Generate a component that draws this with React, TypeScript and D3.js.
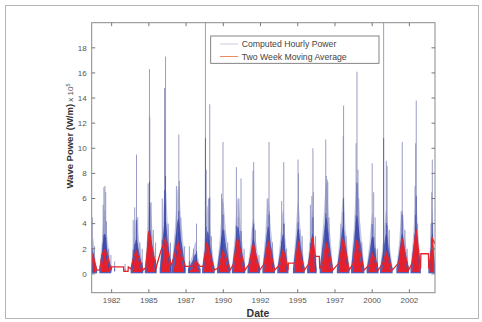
import React from 'react';
import * as d3 from 'd3';

// axis ticks
const yTicks = [0, 2, 4, 6, 8, 10, 12, 14, 16, 18];
const xTickYears = [1982.5, 1985, 1987.5, 1990, 1992.5, 1995, 1997.5, 2000, 2002.5];
const xTickLabels = ['1982', '1985', '1987', '1990', '1992', '1995', '1997', '2000', '2002'];

// winter storm seasons (decimal years), dense core height and two week average peak (x 10^5 W/m)
const seasonStart = [1981.15, 1981.7, 1983.8, 1984.75, 1985.75, 1986.55, 1987.65, 1988.6, 1989.6, 1990.6, 1991.65, 1992.65, 1993.65, 1994.7, 1995.65, 1996.5, 1997.65, 1998.6, 1999.65, 2000.55, 2001.65, 2002.6, 2003.8];
const seasonMid = [1981.25, 1982.02, 1984.15, 1985.05, 1986.1, 1986.98, 1988.15, 1988.95, 1989.98, 1990.98, 1992.02, 1993.02, 1994.02, 1995.02, 1996.0, 1996.92, 1998.05, 1998.98, 2000.02, 2000.95, 2002.02, 2002.95, 2004.05];
const seasonEnd = [1981.5, 1982.45, 1984.6, 1985.5, 1986.5, 1987.45, 1988.45, 1989.4, 1990.45, 1991.45, 1992.45, 1993.45, 1994.35, 1995.45, 1996.25, 1997.35, 1998.45, 1999.45, 2000.4, 2001.35, 2002.45, 2003.25, 2004.22];
const seasonCore = [1.8, 3.2, 2.8, 3.6, 4.4, 4.4, 1.6, 3.4, 3.6, 3.8, 2.8, 3.8, 3.2, 3.6, 3.2, 4.5, 3.8, 4.6, 3.0, 3.2, 3.2, 3.8, 3.2];
const seasonAvg = [1.6, 1.9, 1.8, 3.4, 2.8, 2.5, 1.0, 2.5, 1.8, 2.8, 2.4, 2.6, 1.9, 2.6, 2.9, 2.5, 2.8, 2.7, 1.6, 1.7, 2.8, 3.5, 2.8];

// hourly power storm peaks
const spikeYear = [
  1981.2, 1981.35, 1981.93, 1981.98, 1982.05, 1982.1, 1982.15, 1982.3, 1982.45, 1982.7, 1983.4,
  1983.95, 1984.05, 1984.17, 1984.25, 1984.4, 1984.55, 1984.95, 1985.04, 1985.06, 1985.15, 1985.3, 1985.45,
  1985.9, 1986.05, 1986.1, 1986.12, 1986.3, 1986.45, 1986.85, 1987.01, 1987.05, 1987.15, 1987.4,
  1987.72, 1988.0, 1988.2, 1988.8, 1988.85, 1989.0, 1989.09, 1989.2,
  1989.88, 1989.93, 1989.98, 1990.1, 1990.3, 1990.88, 1991.0, 1991.05, 1991.19, 1991.4,
  1992.0, 1992.04, 1992.15, 1992.4, 1992.95, 1993.07, 1993.1, 1993.3,
  1993.92, 1994.06, 1994.1, 1994.25, 1995.02, 1995.05, 1995.15, 1995.3,
  1995.85, 1995.95, 1996.02, 1996.05, 1996.2, 1996.88, 1996.92, 1996.98, 1997.02, 1997.1,
  1997.9, 1998.06, 1998.08, 1998.25, 1998.92, 1998.98, 1999.05, 1999.1, 1999.3,
  2000.0, 2000.1, 2000.2, 2000.35, 2000.77, 2000.95, 2001.0, 2001.15,
  2001.95, 2002.02, 2002.2, 2002.35, 2002.88, 2002.92, 2002.96, 2003.05, 2003.95, 2004.0, 2004.04,
];
const spikeValue = [
  4.5, 2.2, 5.5, 6.9, 7.0, 6.5, 4.2, 2.0, 1.5, 1.0, 0.8,
  4.3, 5.3, 9.5, 4.5, 2.5, 2.0, 7.2, 16.3, 12.5, 5.7, 3.5, 2.5,
  6.0, 14.8, 12.2, 17.3, 4.0, 2.5, 7.0, 11.1, 7.4, 4.5, 2.2,
  2.2, 2.0, 4.0, 24, 8.3, 6.0, 13.5, 3.0,
  6.4, 6.0, 10.5, 3.5, 2.5, 8.5, 4.5, 6.0, 7.6, 2.0,
  8.2, 8.9, 3.5, 1.5, 6.0, 10.5, 5.0, 2.5,
  5.8, 8.9, 4.0, 2.0, 9.1, 8.0, 3.5, 3.0,
  5.5, 6.2, 10.0, 6.5, 3.0, 10.7, 7.8, 7.5, 7.3, 4.5,
  4.0, 11.0, 13.4, 3.0, 10.4, 16.1, 8.3, 6.0, 2.5,
  8.8, 6.5, 4.5, 2.0, 24, 9.0, 8.6, 3.5,
  5.0, 10.5, 3.5, 2.0, 7.0, 10.4, 13.8, 4.0, 4.0, 6.5, 9.1,
];

// two week moving average
const avgYear = [
  1981.16, 1981.3, 1981.5, 1981.7, 1981.85, 1982.0, 1982.2, 1982.45, 1982.5, 1983.3, 1983.32, 1983.6, 1983.62, 1983.8,
  1984.0, 1984.15, 1984.35, 1984.6, 1984.8, 1985.0, 1985.15, 1985.5, 1985.52, 1985.8, 1986.1, 1986.3, 1986.5,
  1986.7, 1986.95, 1987.2, 1987.45, 1987.9, 1988.15, 1988.45, 1988.65, 1988.9, 1989.1, 1989.4,
  1989.7, 1989.98, 1990.2, 1990.45, 1990.7, 1990.95, 1991.2, 1991.45, 1991.75, 1992.02, 1992.2, 1992.45,
  1992.75, 1993.02, 1993.2, 1993.45, 1993.75, 1994.02, 1994.2, 1994.35, 1994.37, 1994.82, 1994.85,
  1995.02, 1995.2, 1995.45, 1995.75, 1996.0, 1996.15, 1996.2, 1996.45, 1996.48,
  1996.7, 1996.92, 1997.1, 1997.35, 1997.8, 1998.05, 1998.25, 1998.45, 1998.75, 1998.98, 1999.2, 1999.45,
  1999.8, 2000.02, 2000.2, 2000.4, 2000.7, 2000.95, 2001.1, 2001.35, 2001.8, 2002.02, 2002.2, 2002.45,
  2002.7, 2002.95, 2003.1, 2003.25, 2003.27, 2003.78, 2003.8, 2003.95, 2004.05, 2004.22,
];
const avgValue = [
  1.6, 1.2, 0.3, 0.3, 1.5, 1.9, 1.5, 0.3, 0.55, 0.55, 0.2, 0.2, 0.55, 0.4,
  1.4, 1.8, 1.2, 0.3, 0.5, 3.4, 2.4, 0.4, 0.65, 1.8, 2.8, 1.6, 0.65,
  1.4, 2.5, 1.4, 0.6, 0.6, 1.0, 0.6, 0.6, 2.5, 1.5, 0.3,
  0.5, 1.8, 1.2, 0.3, 0.8, 2.8, 1.6, 0.3, 0.8, 2.4, 1.4, 0.3,
  0.8, 2.6, 1.5, 0.3, 0.7, 1.9, 1.1, 0.3, 0.85, 0.85, 0.4,
  2.6, 1.4, 0.3, 0.8, 2.9, 1.6, 1.4, 1.4, 0.4,
  1.0, 2.5, 1.7, 0.3, 0.9, 2.8, 1.6, 0.3, 0.9, 2.7, 1.6, 0.3,
  0.7, 1.6, 1.1, 0.3, 0.8, 1.7, 1.2, 0.3, 0.9, 2.8, 1.6, 0.3,
  0.9, 3.5, 2.0, 0.4, 1.6, 1.6, 0.4, 1.5, 2.8, 2.4,
];

const W = 482;
const H = 322;
const L = 91.7, R = 435, T = 22.7, B = 292.7;

export default function App() {
  const x = d3.scaleLinear().domain([1981.16, 2004.22]).range([L, R]);
  const y = d3.scaleLinear().domain([-1.5, 20]).range([B, T]);

  // season envelopes
  const envelope = d3.area<[number, number]>()
    .x(d => x(d[0]))
    .y0(y(0.05))
    .y1(d => y(d[1]))
    .curve(d3.curveMonotoneX);

  const seasons = seasonMid.map((m, i) => {
    const s = seasonStart[i], e = seasonEnd[i], c = seasonCore[i], a = seasonAvg[i];
    return {
      outer: envelope([[s - 0.03, 0.4], [(s + m) / 2, c * 0.9], [m, c * 1.6], [(m + e) / 2, c * 0.85], [e + 0.03, 0.4]]),
      inner: envelope([[s - 0.02, 0.4], [(s + m) / 2, c * 0.6], [m, c], [(m + e) / 2, c * 0.55], [e + 0.02, 0.4]]),
      red: d3.area<[number, number]>()
        .x(d => x(d[0])).y0(y(0.15)).y1(d => y(d[1])).curve(d3.curveMonotoneX)(
          [[s + 0.1, 0.25], [m - 0.09, a * 0.7], [m, a], [m + 0.08, a * 0.75], [e - 0.1, 0.25]]
        ),
    };
  });

  const avgLine = d3.line<number>()
    .x((d, i) => x(avgYear[i]))
    .y(d => y(d))(avgValue);

  const clipId = 'plotClip';
  const tickColor = '#777';
  const labelFont = '"Liberation Sans", Arial, sans-serif';

  return (
    <svg width={W} height={H} style={{ position: 'absolute', left: 0, top: 0, background: '#fff' }}>
      <rect x={5.5} y={5.5} width={473} height={313} fill="#fff" stroke="#b5b5b5" strokeWidth={1} />
      <defs>
        <clipPath id={clipId}>
          <rect x={L} y={T} width={R - L} height={B - T} />
        </clipPath>
      </defs>

      <g clipPath={`url(#${clipId})`}>
        {seasons.map((s, i) => (
          <path key={'o' + i} d={s.outer ?? ''} fill="#8e92c6" opacity={0.5} />
        ))}
        {spikeYear.map((t, i) => (
          <line key={'s' + i} x1={x(t)} x2={x(t)} y1={y(0.2)} y2={y(spikeValue[i])}
            stroke="#8a8dbd" strokeWidth={1} opacity={0.85} />
        ))}
        {seasons.map((s, i) => (
          <path key={'i' + i} d={s.inner ?? ''} fill="#3545ad" opacity={0.8} />
        ))}
        {spikeYear.map((t, i) => (
          <line key={'sb' + i} x1={x(t)} x2={x(t)} y1={y(0.2)} y2={y(spikeValue[i] * 0.45)}
            stroke="#3a48aa" strokeWidth={1} opacity={0.7} />
        ))}
        {seasons.map((s, i) => (
          <path key={'r' + i} d={s.red ?? ''} fill="#ee1c25" opacity={0.95} />
        ))}
        <path d={avgLine ?? ''} fill="none" stroke="#e4262b" strokeWidth={1.3} />
      </g>

      {/* axes box */}
      <rect x={L} y={T} width={R - L} height={B - T} fill="none" stroke="#8a8a8a" strokeWidth={1} />

      {yTicks.map(v => (
        <g key={'y' + v}>
          <line x1={L} x2={L + 3.5} y1={y(v)} y2={y(v)} stroke={tickColor} />
          <line x1={R} x2={R - 3.5} y1={y(v)} y2={y(v)} stroke={tickColor} />
          <text x={L - 5} y={y(v)} dy="0.35em" textAnchor="end" fontSize={8}
            fontFamily={labelFont} fill="#555">{v}</text>
        </g>
      ))}
      {xTickYears.map((t, i) => (
        <g key={'x' + i}>
          <line x1={x(t)} x2={x(t)} y1={B} y2={B - 3.5} stroke={tickColor} />
          <line x1={x(t)} x2={x(t)} y1={T} y2={T + 3.5} stroke={tickColor} />
          <text x={x(t)} y={B + 10.5} textAnchor="middle" fontSize={8}
            fontFamily={labelFont} fill="#555">{xTickLabels[i]}</text>
        </g>
      ))}

      <text x={258} y={317} textAnchor="middle" fontSize={10.5} fontWeight="bold"
        fontFamily={labelFont} fill="#333">Date</text>

      <text transform="translate(73,136) rotate(-90)" textAnchor="middle" fontFamily={labelFont} fill="#333">
        <tspan fontSize={9.5} fontWeight="bold">Wave Power (W/m)</tspan>
        <tspan fontSize={8} fill="#555"> x 10</tspan>
        <tspan fontSize={5.5} fill="#555" dy={-3.5}>5</tspan>
      </text>

      {/* legend */}
      <rect x={210.7} y={36} width={168.3} height={27.3} fill="#fff" stroke="#666" strokeWidth={0.8} />
      <line x1={220} x2={238} y1={44} y2={44} stroke="#c9cbe3" strokeWidth={1} />
      <text x={241.7} y={44} dy="0.35em" fontSize={8.7} fontFamily={labelFont} fill="#444">Computed Hourly Power</text>
      <line x1={220} x2={238} y1={56.5} y2={56.5} stroke="#ec8a62" strokeWidth={1} />
      <text x={241.7} y={56.5} dy="0.35em" fontSize={8.7} fontFamily={labelFont} fill="#444">Two Week Moving Average</text>
    </svg>
  );
}
